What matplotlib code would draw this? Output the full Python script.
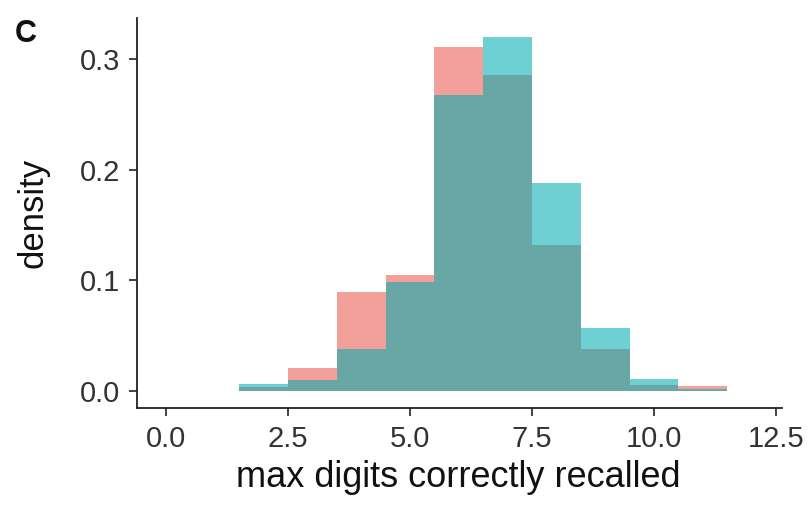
import numpy as np
import matplotlib
matplotlib.use("Agg")
import matplotlib.pyplot as plt

plt.rcParams['font.family'] = ['Liberation Sans', 'DejaVu Sans']

# bins of width 1, centred on whole digits
digits = [2, 3, 4, 5, 6, 7, 8, 9, 10, 11]
# two groups, densities
group_a = [0.003, 0.021, 0.089, 0.105, 0.311, 0.286, 0.132, 0.038, 0.005, 0.004]
group_b = [0.006, 0.010, 0.038, 0.098, 0.268, 0.320, 0.188, 0.057, 0.011, 0.002]

x_ticks = [0.0, 2.5, 5.0, 7.5, 10.0, 12.5]
y_ticks = [0.0, 0.1, 0.2, 0.3]

fig = plt.figure(figsize=(8.12, 5.12), dpi=100)
ax = fig.add_axes([0.1687, 0.203, 0.794, 0.762])

alpha = 0.57
ax.bar(digits, group_a, width=1.0, color="#EC584E", alpha=alpha, linewidth=0)
ax.bar(digits, group_b, width=1.0, color="#00ADB2", alpha=alpha, linewidth=0)

ax.set_xlim(-0.6, 12.62)
ax.set_ylim(-0.0157, 0.3373)
ax.set_xticks(x_ticks)
ax.set_xticklabels([f"{t:.1f}" for t in x_ticks])
ax.set_yticks(y_ticks)
ax.set_yticklabels([f"{t:.1f}" for t in y_ticks])

for side in ["top", "right"]:
    ax.spines[side].set_visible(False)
for side in ["left", "bottom"]:
    ax.spines[side].set_linewidth(1.3)
    ax.spines[side].set_color("#222222")

ax.tick_params(axis="both", direction="out", length=6, width=1.2,
               color="#222222", labelsize=21, labelcolor="#333333", pad=6)

ax.set_xlabel("max digits correctly recalled", fontsize=26, color="#111111")
ax.set_ylabel("density", fontsize=25, color="#111111")
ax.xaxis.set_label_coords(0.499, -0.133)
ax.yaxis.set_label_coords(-0.135, 0.5)

fig.text(0.0185, 0.918, "C", fontsize=22, fontweight="bold", color="#111111")

fig.savefig("out.png", dpi=100)
